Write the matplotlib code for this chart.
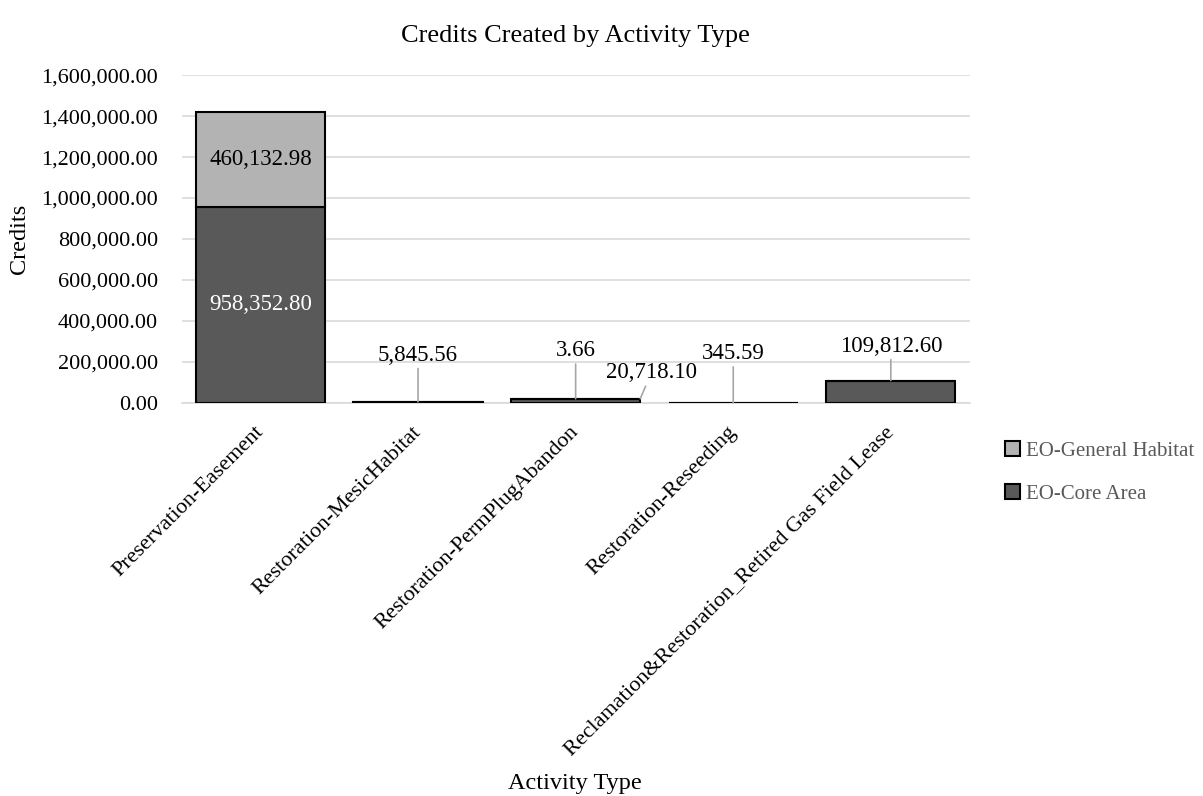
import matplotlib
matplotlib.use("Agg")
import matplotlib.pyplot as plt
import numpy as np
from matplotlib.ticker import FuncFormatter

# donnees
categories = ["Preservation-Easement", "Restoration-MesicHabitat",
              "Restoration-PermPlugAbandon", "Restoration-Reseeding",
              "Reclamation&Restoration_Retired Gas Field Lease"]
core_area = [958352.80, 5845.56, 20718.10, 345.59, 109812.60]
general_habitat = [460132.98, 0, 3.66, 0, 0]
yticks = np.arange(0, 1600001, 200000)

plt.rcParams['font.family'] = ['Liberation Serif', 'DejaVu Serif']

fig = plt.figure(figsize=(12.03, 7.96), dpi=100)
ax = fig.add_axes([0.151, 0.4937, 0.655, 0.412])

x = np.arange(len(categories))
w = 0.82
dark = "#595959"
light = "#b3b3b3"

ax.bar(x, core_area, w, color=dark, edgecolor="black", linewidth=1.5,
       label="EO-Core Area", zorder=3)
ax.bar(x, general_habitat, w, bottom=core_area, color=light,
       edgecolor="black", linewidth=1.5, label="EO-General Habitat", zorder=3)

ax.set_xlim(-0.5, len(categories) - 0.5)
ax.set_ylim(0, 1600000)
ax.set_yticks(yticks)
ax.yaxis.set_major_formatter(FuncFormatter(lambda v, p: f"{v:,.2f}"))
ax.grid(axis="y", color="#d9d9d9", linewidth=1.2, zorder=0)
for s in ["top", "right", "left"]:
    ax.spines[s].set_visible(False)
ax.spines["bottom"].set_color("#d9d9d9")
ax.spines["bottom"].set_linewidth(1.2)
ax.tick_params(axis="y", length=0, labelsize=16, pad=17)
ax.tick_params(axis="x", length=0, labelsize=16, pad=19)
ax.set_xticks(x)
ax.set_xticklabels(categories, rotation=45, ha="right", va="center",
                   rotation_mode="anchor")

ax.set_title("Credits Created by Activity Type", fontsize=19, pad=24)
ax.set_ylabel("Credits", fontsize=17.5)
ax.yaxis.set_label_coords(-0.193, 0.5)
fig.text(0.478, 0.002, "Activity Type", ha="center", va="bottom", fontsize=17.5)

# etiquettes dans la grande barre
ax.text(x[0], core_area[0] / 2, f"{core_area[0]:,.2f}", ha="center", va="center",
        color="white", fontsize=16.5, zorder=4)
ax.text(x[0], core_area[0] + general_habitat[0] / 2, f"{general_habitat[0]:,.2f}",
        ha="center", va="center", color="black", fontsize=16.5, zorder=4)

# etiquettes avec lignes de rappel (decalage en points)
lead = dict(arrowstyle="-", color="#a6a6a6", lw=1.2, shrinkA=0, shrinkB=0)
def callout(xv, yv, txt, dx, dy):
    ax.annotate(txt, xy=(xv, yv), xytext=(dx, dy), textcoords="offset points",
                ha="center", va="bottom", fontsize=16.5, arrowprops=lead, zorder=5)

callout(x[1], core_area[1], f"{core_area[1]:,.2f}", 0, 26)
callout(x[2], core_area[2] + general_habitat[2], f"{general_habitat[2]:,.2f}", 0, 27)
callout(x[2] + w / 2, core_area[2], f"{core_area[2]:,.2f}", 8, 11)
callout(x[3], core_area[3], f"{core_area[3]:,.2f}", 0, 28)
callout(x[4], core_area[4], f"{core_area[4]:,.2f}", 0, 17)

h, l = ax.get_legend_handles_labels()
fig.legend(h[::-1], l[::-1], loc="upper left", bbox_to_anchor=(0.82, 0.469),
           frameon=False, fontsize=15, handlelength=0.7, handleheight=0.7,
           handletextpad=0.3, labelspacing=1.1, labelcolor="#595959")

fig.savefig("out.png", dpi=100)
